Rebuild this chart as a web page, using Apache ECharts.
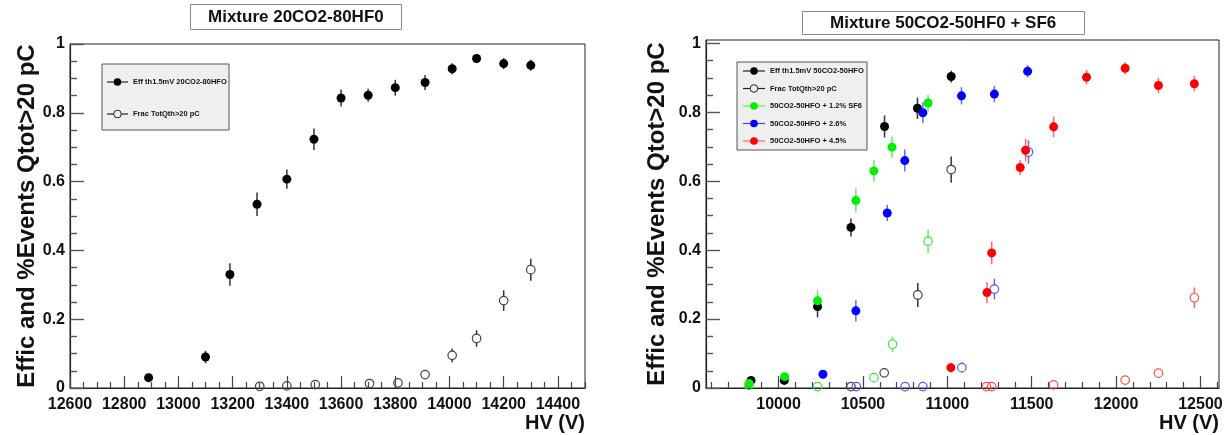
<!DOCTYPE html>
<html>
<head>
<meta charset="utf-8">
<script src="https://cdn.jsdelivr.net/npm/echarts@6/dist/echarts.min.js"></script>
<style>
html,body{margin:0;padding:0;background:#fff;}
#c{width:1227px;height:435px;}
</style>
</head>
<body>
<div id="c"></div>
<script>
// ---------------- texts ----------------
const LEFT_TITLE = 'Mixture 20CO2-80HF0';
const RIGHT_TITLE = 'Mixture 50CO2-50HF0 + SF6';
const Y_TITLE = 'Effic and %Events Qtot>20 pC';
const X_TITLE = 'HV (V)';

// ---------------- tick labels ----------------
const L_X_TICKS = [12600, 12800, 13000, 13200, 13400, 13600, 13800, 14000, 14200, 14400];
const R_X_TICKS = [10000, 10500, 11000, 11500, 12000, 12500];
const Y_TICKS = [0, 0.2, 0.4, 0.6, 0.8, 1];

// ---------------- left panel data ----------------
const L_NAMES = ['Eff th1.5mV 20CO2-80HFO', 'Frac TotQth>20 pC'];
const L_EFF_HV  = [12890, 13100, 13190, 13290, 13400, 13500, 13600, 13700, 13800, 13910, 14010, 14100, 14200, 14300];
const L_EFF     = [0.030, 0.090, 0.330, 0.534, 0.607, 0.723, 0.843, 0.851, 0.873, 0.888, 0.928, 0.958, 0.943, 0.938];
const L_EFF_ERR = [0.008, 0.018, 0.033, 0.034, 0.028, 0.031, 0.025, 0.019, 0.023, 0.022, 0.016, 0.010, 0.016, 0.016];
const L_FRAC_HV  = [13300, 13400, 13505, 13705, 13810, 13910, 14010, 14100, 14200, 14300];
const L_FRAC     = [0.005, 0.006, 0.010, 0.013, 0.015, 0.039, 0.095, 0.144, 0.254, 0.344];
const L_FRAC_ERR = [0.004, 0.005, 0.006, 0.007, 0.008, 0.010, 0.020, 0.024, 0.030, 0.032];

// ---------------- right panel data ----------------
const R_NAMES = ['Eff th1.5mV 50CO2-50HFO', 'Frac TotQth>20 pC', '50CO2-50HFO + 1.2% SF6', '50CO2-50HFO + 2.6%', '50CO2-50HFO + 4.5%'];
const R_BLK_HV  = [9837, 10034, 10231, 10429, 10628, 10823, 11023];
const R_BLK     = [0.022, 0.022, 0.236, 0.466, 0.759, 0.812, 0.904];
const R_BLK_ERR = [0.006, 0.006, 0.031, 0.026, 0.032, 0.031, 0.017];
const R_BLKO_HV  = [10429, 10626, 10825, 11023];
const R_BLKO     = [0.004, 0.044, 0.270, 0.634];
const R_BLKO_ERR = [0.003, 0.011, 0.035, 0.038];
const R_GRN_HV  = [9825, 10036, 10231, 10458, 10565, 10672, 10886];
const R_GRN     = [0.013, 0.033, 0.253, 0.544, 0.630, 0.699, 0.827];
const R_GRN_ERR = [0.005, 0.006, 0.031, 0.035, 0.032, 0.031, 0.024];
const R_GRNO_HV  = [9825, 10231, 10565, 10675, 10886];
const R_GRNO     = [0.008, 0.004, 0.030, 0.127, 0.426];
const R_GRNO_ERR = [0.003, 0.003, 0.008, 0.022, 0.034];
const R_BLU_HV  = [10263, 10458, 10644, 10748, 10855, 11084, 11279, 11476];
const R_BLU     = [0.040, 0.224, 0.508, 0.660, 0.799, 0.848, 0.853, 0.919];
const R_BLU_ERR = [0.007, 0.031, 0.023, 0.032, 0.030, 0.025, 0.024, 0.018];
const R_BLUO_HV  = [10461, 10750, 10855, 11086, 11279, 11481];
const R_BLUO     = [0.004, 0.004, 0.004, 0.059, 0.287, 0.685];
const R_BLUO_ERR = [0.003, 0.003, 0.003, 0.015, 0.030, 0.034];
const R_RED_HV  = [11021, 11235, 11263, 11432, 11464, 11630, 11825, 12054, 12251, 12464];
const R_RED     = [0.059, 0.277, 0.392, 0.640, 0.690, 0.758, 0.902, 0.928, 0.878, 0.883];
const R_RED_ERR = [0.014, 0.031, 0.033, 0.022, 0.033, 0.030, 0.021, 0.018, 0.022, 0.022];
const R_REDO_HV  = [11232, 11263, 11630, 12054, 12251, 12464];
const R_REDO     = [0.004, 0.004, 0.009, 0.023, 0.043, 0.262];
const R_REDO_ERR = [0.003, 0.003, 0.004, 0.006, 0.008, 0.030];

// ---------------- styling ----------------
const FONT = '"Liberation Sans", Arial, Helvetica, sans-serif';
const C_BLACK = '#000000', C_GREEN = '#00ee00', C_BLUE = '#0000ff', C_RED = '#ff0000';
const C_BLACK_O = '#444444', C_GREEN_O = '#44dd44', C_BLUE_O = '#5555ff', C_RED_O = '#ff4a4a';
const C_BLACK_E = '#333333', C_GREEN_E = '#66ee66', C_BLUE_E = '#6666ff', C_RED_E = '#ff6666';

function minorValues(a, b, step, majors) {
  const out = [];
  const n = Math.round((b - a) / step);
  for (let i = 0; i <= n; i++) {
    const v = Math.round((a + i * step) * 1e6) / 1e6;
    if (!majors.some(m => Math.abs(m - v) < 1e-9)) out.push(v);
  }
  return out;
}

const labelStyle = {fontSize: 16, fontWeight: 'bold', color: '#111', fontFamily: FONT};

function xMain(gi, min, max, ticks) {
  return {
    gridIndex: gi, type: 'value', min: min, max: max, position: 'bottom',
    axisLine: {show: true, onZero: false, lineStyle: {color: '#222', width: 1.2}},
    axisTick: {show: true, inside: true, length: 12, customValues: ticks, lineStyle: {color: '#444', width: 1.2}},
    axisLabel: Object.assign({show: true, customValues: ticks, margin: 9, formatter: v => String(v)}, labelStyle),
    splitLine: {show: false},
    name: X_TITLE, nameLocation: 'end', nameGap: 0, nameMoveOverlap: false,
    nameTextStyle: {fontSize: 20, fontWeight: 'bold', color: '#111', fontFamily: FONT, align: 'right', verticalAlign: 'top', padding: [25, 0, 0, 0]}
  };
}
function xMinor(gi, min, max, vals) {
  return {
    gridIndex: gi, type: 'value', min: min, max: max, position: 'bottom',
    axisLine: {show: false, onZero: false},
    axisTick: {show: true, inside: true, length: 6, customValues: vals, lineStyle: {color: '#444', width: 1.2}},
    axisLabel: {show: false}, splitLine: {show: false}
  };
}
function yMain(gi, max, gap) {
  return {
    gridIndex: gi, type: 'value', min: 0, max: max, position: 'left',
    axisLine: {show: true, onZero: false, lineStyle: {color: '#222', width: 1.2}},
    axisTick: {show: true, inside: true, length: 14, customValues: Y_TICKS, lineStyle: {color: '#555', width: 1.4}},
    axisLabel: Object.assign({show: true, customValues: Y_TICKS, margin: 5, formatter: v => String(v)}, labelStyle),
    splitLine: {show: false},
    name: Y_TITLE, nameLocation: 'middle', nameGap: gap, nameRotate: 90, nameMoveOverlap: false,
    nameTextStyle: {fontSize: 24, fontWeight: 'bold', color: '#111', fontFamily: FONT}
  };
}
function yMinor(gi, max) {
  return {
    gridIndex: gi, type: 'value', min: 0, max: max, position: 'left',
    axisLine: {show: false, onZero: false},
    axisTick: {show: true, inside: true, length: 7, customValues: minorValues(0, 1, 0.05, Y_TICKS), lineStyle: {color: '#555', width: 1.4}},
    axisLabel: {show: false}, splitLine: {show: false}
  };
}

function errSeries(hv, val, err, color, xi, yi) {
  const gap = 4;
  return {
    type: 'custom', xAxisIndex: xi, yAxisIndex: yi, silent: true, z: 2,
    data: hv.map((h, i) => [h, val[i], err[i]]),
    renderItem: function (params, api) {
      const x = api.value(0), y = api.value(1), e = api.value(2);
      const t = api.coord([x, y + e]), c = api.coord([x, y]), b = api.coord([x, y - e]);
      const ch = [];
      if (c[1] - t[1] > gap) ch.push({type: 'line', shape: {x1: c[0], y1: t[1], x2: c[0], y2: c[1] - gap}, style: {stroke: color, lineWidth: 1.5}});
      if (b[1] - c[1] > gap) ch.push({type: 'line', shape: {x1: c[0], y1: c[1] + gap, x2: c[0], y2: b[1]}, style: {stroke: color, lineWidth: 1.5}});
      return {type: 'group', children: ch};
    }
  };
}
function markSeries(name, hv, val, color, open, xi, yi) {
  return {
    type: 'scatter', name: name, xAxisIndex: xi, yAxisIndex: yi, silent: true, z: 3,
    symbol: 'circle', symbolSize: open ? 8.5 : 9,
    data: hv.map((h, i) => [h, val[i]]),
    itemStyle: open ? {color: 'rgba(255,255,255,0)', borderColor: color, borderWidth: 1.2, opacity: 1}
                    : {color: color, opacity: 1, borderWidth: 0},
    emphasis: {disabled: true}
  };
}

const series = [
  errSeries(L_EFF_HV, L_EFF, L_EFF_ERR, C_BLACK_E, 0, 0),
  markSeries(L_NAMES[0], L_EFF_HV, L_EFF, C_BLACK, false, 0, 0),
  errSeries(L_FRAC_HV, L_FRAC, L_FRAC_ERR, C_BLACK_E, 0, 0),
  markSeries(L_NAMES[1], L_FRAC_HV, L_FRAC, C_BLACK_O, true, 0, 0),

  errSeries(R_BLK_HV, R_BLK, R_BLK_ERR, C_BLACK_E, 2, 2),
  markSeries(R_NAMES[0], R_BLK_HV, R_BLK, C_BLACK, false, 2, 2),
  errSeries(R_BLKO_HV, R_BLKO, R_BLKO_ERR, C_BLACK_E, 2, 2),
  markSeries(R_NAMES[1], R_BLKO_HV, R_BLKO, C_BLACK_O, true, 2, 2),
  errSeries(R_GRN_HV, R_GRN, R_GRN_ERR, C_GREEN_E, 2, 2),
  markSeries(R_NAMES[2], R_GRN_HV, R_GRN, C_GREEN, false, 2, 2),
  errSeries(R_GRNO_HV, R_GRNO, R_GRNO_ERR, C_GREEN_E, 2, 2),
  markSeries(R_NAMES[2] + ' frac', R_GRNO_HV, R_GRNO, C_GREEN_O, true, 2, 2),
  errSeries(R_BLU_HV, R_BLU, R_BLU_ERR, C_BLUE_E, 2, 2),
  markSeries(R_NAMES[3], R_BLU_HV, R_BLU, C_BLUE, false, 2, 2),
  errSeries(R_BLUO_HV, R_BLUO, R_BLUO_ERR, C_BLUE_E, 2, 2),
  markSeries(R_NAMES[3] + ' frac', R_BLUO_HV, R_BLUO, C_BLUE_O, true, 2, 2),
  errSeries(R_RED_HV, R_RED, R_RED_ERR, C_RED_E, 2, 2),
  markSeries(R_NAMES[4], R_RED_HV, R_RED, C_RED, false, 2, 2),
  errSeries(R_REDO_HV, R_REDO, R_REDO_ERR, C_RED_E, 2, 2),
  markSeries(R_NAMES[4] + ' frac', R_REDO_HV, R_REDO, C_RED_O, true, 2, 2)
];

// ---------------- legends (drawn as graphic boxes like ROOT TLegend) ----------------
function legendBox(x, y, w, h, entries, ys, lineX0, lineX1, textX) {
  const els = [{type: 'rect', shape: {x: x, y: y, width: w, height: h}, style: {fill: '#efefef', stroke: '#555', lineWidth: 1}, z: 10}];
  entries.forEach((e, i) => {
    const cy = ys[i], cx = (lineX0 + lineX1) / 2;
    els.push({type: 'line', shape: {x1: lineX0, y1: cy, x2: lineX1, y2: cy}, style: {stroke: e.line, lineWidth: 1.2}, z: 11});
    els.push({type: 'circle', shape: {cx: cx, cy: cy, r: 3.8}, style: e.open ? {fill: '#efefef', stroke: e.color, lineWidth: 1} : {fill: e.color}, z: 12});
    els.push({type: 'text', x: textX, y: cy, style: {text: e.name, fill: '#111', fontSize: 7.5, fontWeight: 'bold', fontFamily: FONT, verticalAlign: 'middle', align: 'left'}, z: 12});
  });
  return els;
}

const graphics = [].concat(
  legendBox(102, 64, 127, 66, [
    {name: L_NAMES[0], color: C_BLACK, line: '#222', open: false},
    {name: L_NAMES[1], color: '#222', line: '#222', open: true}
  ], [82, 114], 107, 128, 133),
  legendBox(737, 62, 130, 88, [
    {name: R_NAMES[0], color: C_BLACK, line: '#222', open: false},
    {name: R_NAMES[1], color: '#222', line: '#222', open: true},
    {name: R_NAMES[2], color: C_GREEN, line: '#55ee55', open: false},
    {name: R_NAMES[3], color: C_BLUE, line: '#4444ff', open: false},
    {name: R_NAMES[4], color: C_RED, line: '#ff6666', open: false}
  ], [71, 88.5, 106, 123.5, 141], 743, 765, 770)
);

const option = {
  animation: false,
  backgroundColor: '#ffffff',
  title: [
    {text: LEFT_TITLE, left: 190, top: 4, padding: [4, 18], borderColor: '#888', borderWidth: 1, backgroundColor: '#fff',
     textStyle: {fontSize: 17, fontWeight: 'bold', color: '#111', fontFamily: FONT, lineHeight: 18}},
    {text: RIGHT_TITLE, left: 802, top: 11, padding: [3, 28], borderColor: '#888', borderWidth: 1, backgroundColor: '#fff',
     textStyle: {fontSize: 17, fontWeight: 'bold', color: '#111', fontFamily: FONT, lineHeight: 18}}
  ],
  grid: [
    {left: 70, top: 44, width: 515, height: 344, show: true, borderColor: '#222', borderWidth: 1, backgroundColor: 'transparent', containLabel: false, outerBoundsMode: 'none'},
    {left: 706, top: 40, width: 513, height: 348, show: true, borderColor: '#222', borderWidth: 1, backgroundColor: 'transparent', containLabel: false, outerBoundsMode: 'none'}
  ],
  xAxis: [
    xMain(0, 12600, 14500, L_X_TICKS),
    xMinor(0, 12600, 14500, minorValues(12600, 14500, 50, L_X_TICKS)),
    xMain(1, 9570, 12610, R_X_TICKS),
    xMinor(1, 9570, 12610, minorValues(9600, 12600, 100, R_X_TICKS))
  ],
  yAxis: [
    yMain(0, 1.0, 31),
    yMinor(0, 1.0),
    yMain(1, 1.01, 37),
    yMinor(1, 1.01)
  ],
  series: series,
  graphic: graphics
};

const chart = echarts.init(document.getElementById('c'), null, {renderer: 'canvas'});
chart.setOption(option);
</script>
</body>
</html>
